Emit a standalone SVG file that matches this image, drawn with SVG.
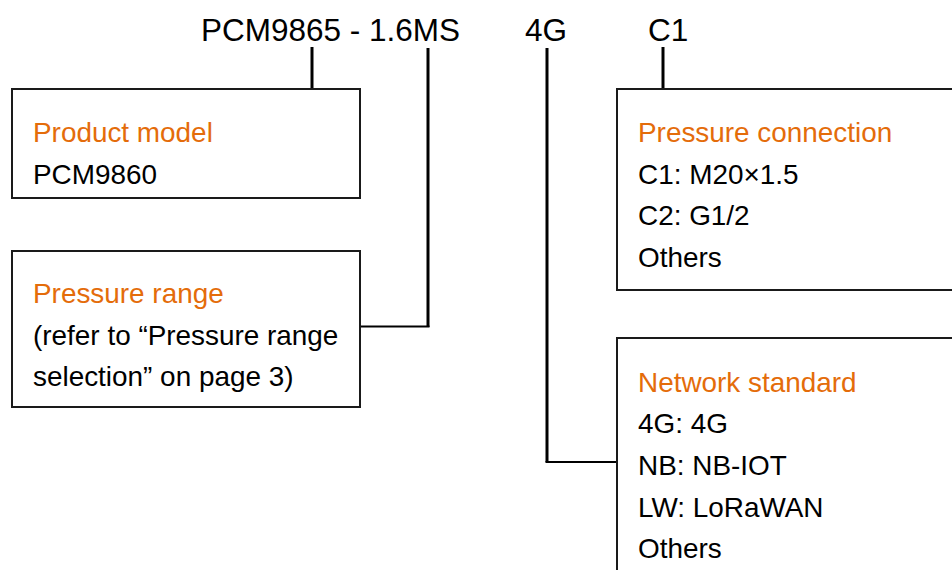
<svg xmlns="http://www.w3.org/2000/svg" width="952" height="570" viewBox="0 0 952 570">
<style>
.box{fill:#fff;stroke:#1a1a1a;stroke-width:2}
.t{font-family:"Liberation Sans",Arial,sans-serif;font-size:27.9px;fill:#000}
.h{font-family:"Liberation Sans",Arial,sans-serif;font-size:27.9px;fill:#E46C0A}
.code{font-family:"Liberation Sans",Arial,sans-serif;font-size:31.5px;fill:#000}
.c{fill:none;stroke:#000;stroke-width:3}
.c2{fill:none;stroke:#000;stroke-width:2}
</style>
<rect width="952" height="570" fill="#fff"/>
<g id="header">
<text class="code" x="201" y="41">PCM9865 - 1.6MS</text>
<text class="code" x="525" y="41">4G</text>
<text class="code" x="648" y="41">C1</text>
</g>
<g id="connectors">
<line class="c" x1="312" y1="47" x2="312" y2="89"/>
<polyline class="c" points="428,48 428,327"/>
<line class="c2" x1="360" y1="326.5" x2="429.5" y2="326.5"/>
<polyline class="c" points="547,48 547,462"/>
<line class="c2" x1="545.5" y1="462" x2="618" y2="462"/>
<line class="c" x1="663" y1="47" x2="663" y2="89"/>
</g>
<g id="product-model">
<rect class="box" x="12" y="89" width="348" height="109"/>
<text class="h" x="33" y="142">Product model</text>
<text class="t" x="33" y="184">PCM9860</text>
</g>
<g id="pressure-range">
<rect class="box" x="12" y="251" width="348" height="156"/>
<text class="h" x="33" y="303">Pressure range</text>
<text class="t" x="33" y="345">(refer to “Pressure range</text>
<text class="t" x="33" y="386">selection” on page 3)</text>
</g>
<g id="pressure-connection">
<rect class="box" x="617" y="89" width="345" height="201"/>
<text class="h" x="638" y="142">Pressure connection</text>
<text class="t" x="638" y="184">C1: M20×1.5</text>
<text class="t" x="638" y="225">C2: G1/2</text>
<text class="t" x="638" y="267">Others</text>
</g>
<g id="network-standard">
<rect class="box" x="617" y="338" width="345" height="245"/>
<text class="h" x="638" y="392">Network standard</text>
<text class="t" x="638" y="433">4G: 4G</text>
<text class="t" x="638" y="475">NB: NB-IOT</text>
<text class="t" x="638" y="517">LW: LoRaWAN</text>
<text class="t" x="638" y="558">Others</text>
</g>
</svg>
